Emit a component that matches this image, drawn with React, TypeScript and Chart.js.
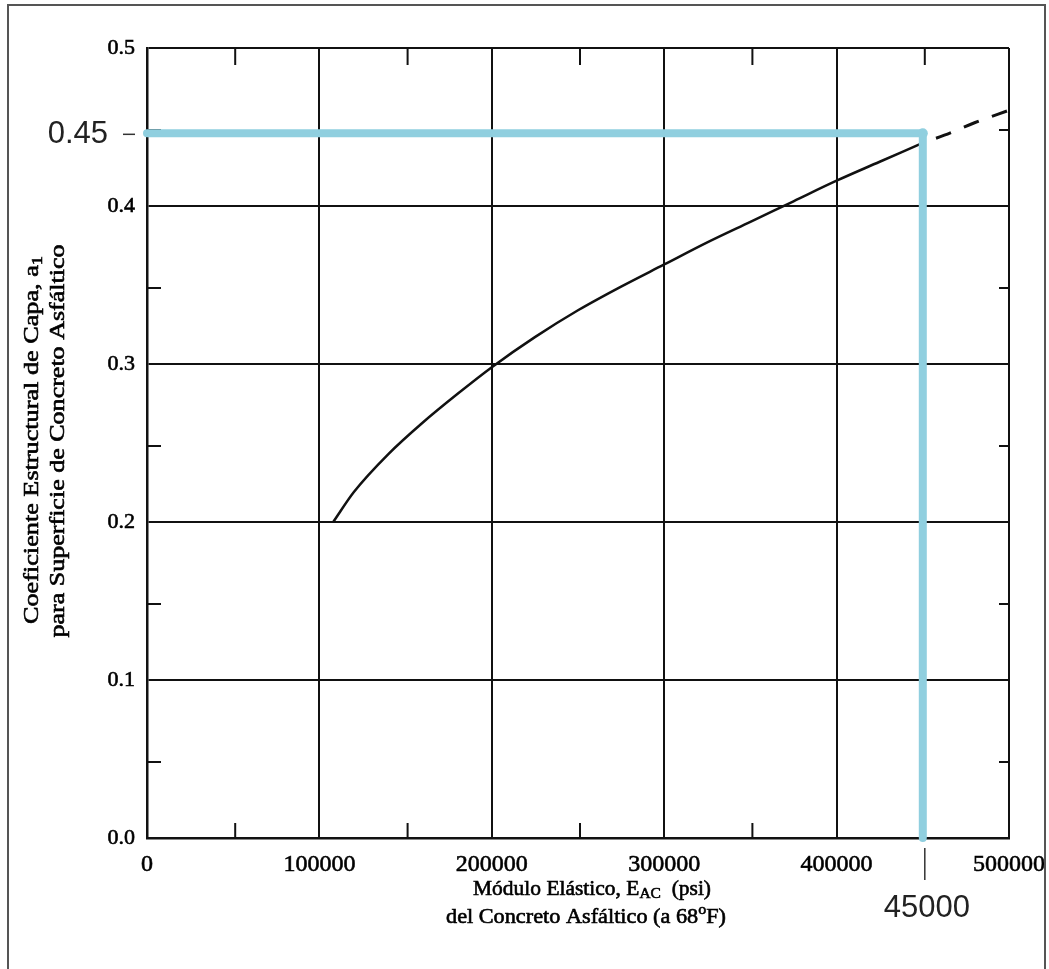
import { useEffect, useRef } from "react";
import { Chart, registerables } from "chart.js";

Chart.register(...registerables);

// ---- data ----
const X_MIN = 0;
const X_MAX = 500000;
const Y_MIN = 0;
const Y_MAX = 0.5;

const xMajorTicks = [0, 100000, 200000, 300000, 400000, 500000];
const yMajorTicks = [0, 0.1, 0.2, 0.3, 0.4, 0.5];
const xMinorTicks = [50000, 150000, 250000, 350000, 450000];
const yMinorTicks = [0.05, 0.15, 0.25, 0.35, 0.45];

// solid part of the a1 curve
const curveSolidX = [108000, 120000, 140000, 160000, 180000, 200000, 225000, 250000, 275000, 300000, 325000, 350000, 375000, 400000, 425000, 450000];
const curveSolidY = [0.2, 0.219, 0.243, 0.263, 0.281, 0.298, 0.317, 0.334, 0.349, 0.363, 0.377, 0.39, 0.403, 0.416, 0.428, 0.44];

// dashed extrapolation
const curveDashedX = [450000, 462500, 480000, 500000];
const curveDashedY = [0.44, 0.4448, 0.4527, 0.4606];

// light-blue reading guide
const guideX = [0, 450000, 450000];
const guideY = [0.446, 0.446, 0];
const guideValueLabel = "0.45";
const guideModulusLabel = "45000";

type Seg = { t: string; s?: number; dy?: number };

const yTitle1: Seg[] = [{ t: "Coeficiente Estructural de Capa, a" }, { t: "1", s: 0.7, dy: 0.28 }];
const yTitle2: Seg[] = [{ t: "para Superficie de Concreto Asfáltico" }];
const xTitle1: Seg[] = [{ t: "Módulo Elástico, E" }, { t: "AC", s: 0.72, dy: 0.25 }, { t: "  (psi)" }];
const xTitle2: Seg[] = [{ t: "del Concreto Asfáltico (a 68" }, { t: "o", s: 0.72, dy: -0.32 }, { t: "F)" }];

const SERIF = '"Liberation Serif", "Times New Roman", serif';
const SANS = '"Liberation Sans", Arial, sans-serif';
const INK = "#111111";
const GUIDE = "#90cfdf";

function drawRich(
  ctx: CanvasRenderingContext2D,
  segs: Seg[],
  cx: number,
  cy: number,
  size: number,
  family: string,
  weight: string,
  targetLen: number,
  angle: number
) {
  ctx.save();
  ctx.translate(cx, cy);
  if (angle) ctx.rotate(angle);
  let total = 0;
  const widths = segs.map((s) => {
    ctx.font = `${weight} ${size * (s.s ?? 1)}px ${family}`;
    const w = ctx.measureText(s.t).width;
    total += w;
    return w;
  });
  const k = targetLen ? targetLen / total : 1;
  ctx.scale(k, 1);
  ctx.textBaseline = "middle";
  ctx.textAlign = "left";
  ctx.fillStyle = "#000";
  ctx.strokeStyle = "#000";
  ctx.lineWidth = 0.6;
  let x = -total / 2;
  segs.forEach((s, i) => {
    ctx.font = `${weight} ${size * (s.s ?? 1)}px ${family}`;
    ctx.fillText(s.t, x, (s.dy ?? 0) * size);
    ctx.strokeText(s.t, x, (s.dy ?? 0) * size);
    x += widths[i];
  });
  ctx.restore();
}

const overlayPlugin = {
  id: "overlay",
  beforeDatasetsDraw(chart: any) {
    const ctx: CanvasRenderingContext2D = chart.ctx;
    const xs = chart.scales.x;
    const ys = chart.scales.y;
    const a = chart.chartArea;
    ctx.save();
    ctx.strokeStyle = INK;
    ctx.lineWidth = 2;
    ctx.beginPath();
    xMinorTicks.forEach((v) => {
      const px = xs.getPixelForValue(v) + 2;
      ctx.moveTo(px, a.top);
      ctx.lineTo(px, a.top + 17);
      ctx.moveTo(px, a.bottom);
      ctx.lineTo(px, a.bottom - 15);
    });
    yMinorTicks.forEach((v) => {
      const py = ys.getPixelForValue(v) + 3;
      ctx.moveTo(a.left, py);
      ctx.lineTo(a.left + 14, py);
      ctx.moveTo(a.right, py);
      ctx.lineTo(a.right - 10, py);
    });
    ctx.stroke();
    ctx.restore();
  },
  afterDraw(chart: any) {
    const ctx: CanvasRenderingContext2D = chart.ctx;
    const xs = chart.scales.x;
    const ys = chart.scales.y;
    ctx.save();
    // outer frame
    ctx.strokeStyle = "#555";
    ctx.lineWidth = 2;
    ctx.beginPath();
    ctx.moveTo(8, 975);
    ctx.lineTo(8, 5);
    ctx.lineTo(1045, 5);
    ctx.lineTo(1045, 975);
    ctx.stroke();

    // axis titles
    drawRich(ctx, yTitle1, 32, 440, 21, SERIF, "normal", 368, -Math.PI / 2);
    drawRich(ctx, yTitle2, 58, 441, 21, SERIF, "normal", 393, -Math.PI / 2);
    drawRich(ctx, xTitle1, 592, 889, 21, SERIF, "normal", 238, 0);
    drawRich(ctx, xTitle2, 586, 917, 21, SERIF, "normal", 280, 0);

    // guide annotations
    const gy = ys.getPixelForValue(guideY[0]);
    ctx.fillStyle = "#222";
    ctx.font = `31px ${SANS}`;
    ctx.textBaseline = "middle";
    ctx.textAlign = "right";
    ctx.fillText(guideValueLabel, 108, gy + 1);
    ctx.strokeStyle = "#333";
    ctx.lineWidth = 1.5;
    ctx.beginPath();
    ctx.moveTo(123, gy + 1);
    ctx.lineTo(135, gy + 1);
    ctx.stroke();

    const gx = xs.getPixelForValue(guideX[1]);
    ctx.beginPath();
    ctx.moveTo(gx + 2, 848);
    ctx.lineTo(gx + 2, 880);
    ctx.stroke();
    ctx.textAlign = "center";
    ctx.fillText(guideModulusLabel, gx + 4, 908);
    ctx.restore();
  },
};

export default function App() {
  const ref = useRef<HTMLCanvasElement | null>(null);

  useEffect(() => {
    if (!ref.current) return;
    const pts = (xa: number[], ya: number[]) => xa.map((x, i) => ({ x, y: ya[i] }));
    const chart = new Chart(ref.current, {
      type: "line",
      data: {
        datasets: [
          {
            label: "guide",
            data: pts(guideX, guideY),
            borderColor: GUIDE,
            backgroundColor: GUIDE,
            borderWidth: 8,
            borderCapStyle: "round",
            borderJoinStyle: "round",
            pointRadius: [0, 5, 0],
            pointBorderWidth: 0,
            pointBackgroundColor: GUIDE,
            tension: 0,
            clip: false,
          },
          {
            label: "a1 solid",
            data: pts(curveSolidX, curveSolidY),
            borderColor: INK,
            borderWidth: 2.5,
            pointRadius: 0,
            cubicInterpolationMode: "monotone",
            tension: 0.4,
          },
          {
            label: "a1 dashed",
            data: pts(curveDashedX, curveDashedY),
            borderColor: INK,
            borderWidth: 3,
            borderDash: [16, 14],
            borderDashOffset: 16,
            pointRadius: 0,
            cubicInterpolationMode: "monotone",
            tension: 0.4,
          },
        ],
      } as any,
      options: {
        responsive: false,
        animation: false,
        devicePixelRatio: 1,
        layout: { padding: { top: 48, right: 40, left: 0, bottom: 0 } },
        plugins: {
          legend: { display: false },
          tooltip: { enabled: false },
          title: { display: false },
        },
        events: [],
        scales: {
          x: {
            type: "linear",
            min: X_MIN,
            max: X_MAX,
            afterBuildTicks: (scale: any) => {
              scale.ticks = xMajorTicks.map((v) => ({ value: v }));
            },
            afterFit: (scale: any) => {
              scale.height = 131;
              scale.paddingLeft = 0;
              scale.paddingRight = 0;
            },
            grid: { color: INK, lineWidth: 2, drawTicks: false },
            border: { display: true, color: INK, width: 2.5 },
            ticks: {
              padding: 12,
              color: "#000",
              textStrokeColor: "#000",
              textStrokeWidth: 0.6,
              font: { family: SERIF, size: 24 },
              maxRotation: 0,
              callback: (v: any) => String(v),
            },
          },
          y: {
            type: "linear",
            min: Y_MIN,
            max: Y_MAX,
            afterBuildTicks: (scale: any) => {
              scale.ticks = yMajorTicks.map((v) => ({ value: v }));
            },
            afterFit: (scale: any) => {
              scale.width = 147;
              scale.paddingTop = 0;
              scale.paddingBottom = 0;
            },
            grid: { color: INK, lineWidth: 2, drawTicks: false },
            border: { display: true, color: INK, width: 2.5 },
            ticks: {
              padding: 12,
              color: "#000",
              textStrokeColor: "#000",
              textStrokeWidth: 0.6,
              font: { family: SERIF, size: 22 },
              callback: (v: any) => Number(v).toFixed(1),
            },
          },
        },
      } as any,
      plugins: [overlayPlugin],
    });
    return () => chart.destroy();
  }, []);

  return (
    <div style={{ position: "absolute", left: 0, top: 0, width: 1049, height: 969, background: "#fff" }}>
      <canvas ref={ref} width={1049} height={969} style={{ display: "block" }} />
    </div>
  );
}
